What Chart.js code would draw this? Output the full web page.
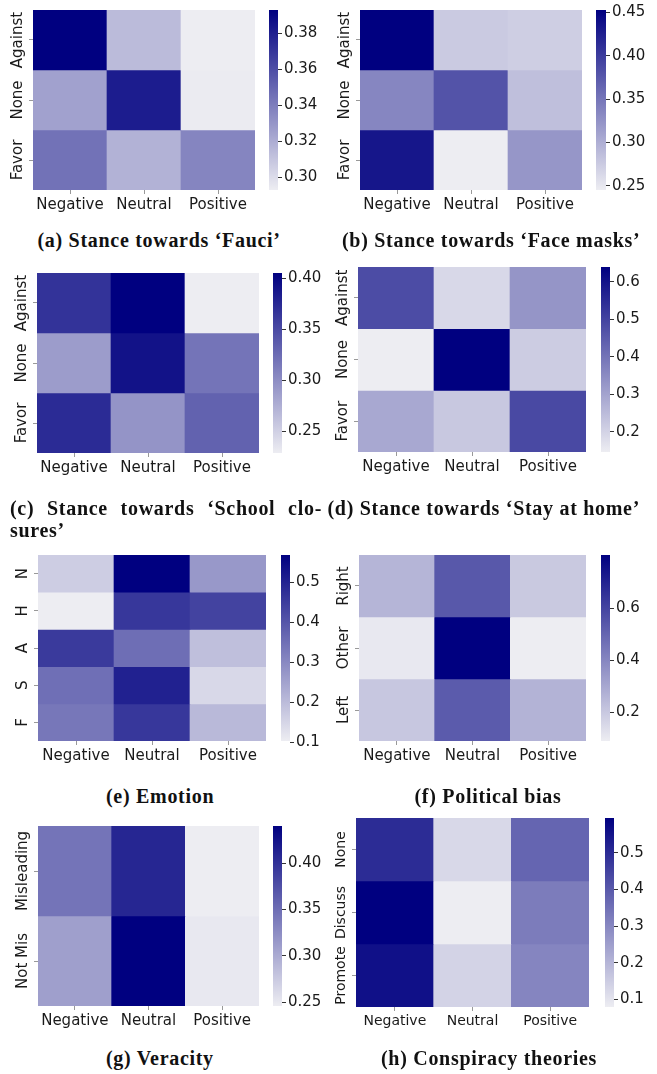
<!DOCTYPE html>
<html>
<head>
<meta charset="utf-8">
<script src="https://cdn.jsdelivr.net/npm/chart.js@4.4.0/dist/chart.umd.min.js"></script>
<style>
body { margin: 0; background: #fff; width: 657px; height: 1074px; position: relative; overflow: hidden; }
canvas { position: absolute; }
.cap { position: absolute; font-family: 'Liberation Serif', 'DejaVu Serif', serif; font-weight: bold; font-size: 20px; letter-spacing: 0.7px; line-height: 22px; color: #111; white-space: nowrap; }
</style>
</head>
<body>
<script>
// Kategorie
const sentiments = ['Negative', 'Neutral', 'Positive'];
const stanceRows = ['Against', 'None', 'Favor'];
const emotionRows = ['N', 'H', 'A', 'S', 'F'];
const biasRows = ['Right', 'Other', 'Left'];
const veracityRows = ['Misleading', 'Not Mis'];
const conspiracyRows = ['None', 'Discuss', 'Promote'];

// Wartości (wiersze od góry)
const fauciValues = [[0.393, 0.314, 0.293], [0.325, 0.381, 0.294], [0.345, 0.318, 0.337]];
const faceMaskValues = [[0.453, 0.276, 0.272], [0.335, 0.380, 0.285], [0.434, 0.245, 0.321]];
const schoolValues = [[0.367, 0.405, 0.229], [0.289, 0.392, 0.319], [0.373, 0.295, 0.332]];
const stayHomeValues = [[0.480, 0.190, 0.330], [0.146, 0.639, 0.215], [0.290, 0.222, 0.488]];
const emotionValues = [[0.165, 0.569, 0.270], [0.103, 0.460, 0.437], [0.455, 0.352, 0.193], [0.350, 0.505, 0.145], [0.335, 0.460, 0.205]];
const biasValues = [[0.260, 0.540, 0.200], [0.105, 0.805, 0.090], [0.205, 0.530, 0.265]];
const veracityValues = [[0.345, 0.409, 0.246], [0.310, 0.440, 0.250]];
const conspiracyValues = [[0.500, 0.125, 0.375], [0.595, 0.079, 0.326], [0.560, 0.135, 0.305]];

// Podziałki pasków kolorów
const fauciTicks = [0.30, 0.32, 0.34, 0.36, 0.38];
const faceMaskTicks = [0.25, 0.30, 0.35, 0.40, 0.45];
const schoolTicks = [0.25, 0.30, 0.35, 0.40];
const stayHomeTicks = [0.2, 0.3, 0.4, 0.5, 0.6];
const emotionTicks = [0.1, 0.2, 0.3, 0.4, 0.5];
const biasTicks = [0.2, 0.4, 0.6];
const veracityTicks = [0.25, 0.30, 0.35, 0.40];
const conspiracyTicks = [0.1, 0.2, 0.3, 0.4, 0.5];

const TEXT = '#1a1a1a';
const LIGHT = [237, 237, 242];
const NAVY = [0, 0, 128];

function cmap(t) {
    t = Math.max(0, Math.min(1, t));
    const c = LIGHT.map((l, i) => Math.round(l + (NAVY[i] - l) * t));
    return `rgb(${c[0]}, ${c[1]}, ${c[2]})`;
}

// Panele: [left, top, right, bottom] obszaru mapy, [left, right] paska
const panels = [
    { rows: stanceRows, values: fauciValues, ticks: fauciTicks, dec: 2, box: [33, 10, 255, 190], cb: [269, 278], fs: 15 },
    { rows: stanceRows, values: faceMaskValues, ticks: faceMaskTicks, dec: 2, box: [360, 10, 582, 190], cb: [596, 606], fs: 15 },
    { rows: stanceRows, values: schoolValues, ticks: schoolTicks, dec: 2, box: [37, 273, 259, 453], cb: [273, 282], fs: 15 },
    { rows: stanceRows, values: stayHomeValues, ticks: stayHomeTicks, dec: 1, box: [358, 267, 586, 452], cb: [601, 610], fs: 15 },
    { rows: emotionRows, values: emotionValues, ticks: emotionTicks, dec: 1, box: [38, 555, 266, 741], cb: [281, 290], fs: 15 },
    { rows: biasRows, values: biasValues, ticks: biasTicks, dec: 1, box: [359, 555, 586, 741], cb: [601, 610], fs: 15 },
    { rows: veracityRows, values: veracityValues, ticks: veracityTicks, dec: 2, box: [38, 826, 259, 1006], cb: [273, 282], fs: 15 },
    { rows: conspiracyRows, values: conspiracyValues, ticks: conspiracyTicks, dec: 1, box: [356, 818, 589, 1007], cb: [605, 614], fs: 14 }
];

const captions = [
    { text: '(a) Stance towards ‘Fauci’', cx: 159, y: 240 },
    { text: '(b) Stance towards ‘Face masks’', cx: 491, y: 240 },
    { text: '(d) Stance towards ‘Stay at home’', cx: 484, y: 508 },
    { text: '(e) Emotion', cx: 160, y: 796 },
    { text: '(f) Political bias', cx: 488, y: 796 },
    { text: '(g) Veracity', cx: 160, y: 1058 },
    { text: '(h) Conspiracy theories', cx: 489, y: 1058 }
];

function makeCanvas(x, y, w, h) {
    const c = document.createElement('canvas');
    c.width = w; c.height = h;
    c.style.left = x + 'px'; c.style.top = y + 'px';
    c.style.width = w + 'px'; c.style.height = h + 'px';
    document.body.appendChild(c);
    return c;
}

// Obrócone etykiety osi Y (jak w seaborn)
const yLabelPlugin = {
    id: 'yLabels',
    afterDraw(chart, args, opts) {
        const scale = chart.scales.y;
        const ctx = chart.ctx;
        const n = opts.rows.length;
        ctx.save();
        ctx.font = `${opts.size}px "DejaVu Sans"`;
        ctx.fillStyle = TEXT;
        ctx.textAlign = 'center';
        ctx.textBaseline = 'middle';
        opts.rows.forEach((label, i) => {
            const y = scale.getPixelForValue(n - 1 - i + 0.5);
            ctx.save();
            ctx.translate(scale.right - opts.offset, y);
            ctx.rotate(-Math.PI / 2);
            ctx.fillText(label, 0, 0);
            ctx.restore();
        });
        ctx.restore();
    }
};

function drawHeatmap(p) {
    const [L, T, R, B] = p.box;
    const n = p.rows.length;
    const flat = p.values.flat();
    const vmin = Math.min(...flat), vmax = Math.max(...flat);
    const canvas = makeCanvas(L - 40, T - 10, (R - L) + 50, (B - T) + 42);

    const datasets = p.rows.map((row, i) => ({
        label: row,
        data: sentiments.map(() => [n - 1 - i, n - i]),
        backgroundColor: p.values[i].map(v => cmap((v - vmin) / (vmax - vmin))),
        borderWidth: 0,
        barPercentage: 1,
        categoryPercentage: 1,
        grouped: false
    }));

    new Chart(canvas.getContext('2d'), {
        type: 'bar',
        data: { labels: sentiments, datasets },
        options: {
            responsive: false,
            animation: false,
            events: [],
            layout: { padding: { left: 0, top: 10, right: 10, bottom: 0 } },
            plugins: { legend: { display: false }, tooltip: { enabled: false }, yLabels: { rows: p.rows, size: p.fs, offset: 15 } },
            scales: {
                x: {
                    offset: true,
                    border: { display: false },
                    grid: { offset: false, drawOnChartArea: false, drawTicks: true, tickLength: 4, color: '#999' },
                    ticks: { font: { family: 'DejaVu Sans', size: p.fs }, color: TEXT, padding: 2, maxRotation: 0 },
                    afterFit: s => { s.height = 32; }
                },
                y: {
                    min: 0, max: n,
                    border: { display: false },
                    grid: { drawOnChartArea: false, drawTicks: true, tickLength: 4, color: '#999' },
                    ticks: { display: false },
                    afterBuildTicks: s => { s.ticks = p.rows.map((_, i) => ({ value: n - 1 - i + 0.5 })); },
                    afterFit: s => { s.width = 40; }
                }
            }
        },
        plugins: [yLabelPlugin]
    });

    // Pasek kolorów
    const [cL, cR] = p.cb;
    const cbCanvas = makeCanvas(cL - 2, T - 16, (cR - cL) + 52, (B - T) + 32);
    new Chart(cbCanvas.getContext('2d'), {
        type: 'bar',
        data: {
            labels: [''],
            datasets: [{
                data: [[vmin, vmax]],
                backgroundColor: ctx => {
                    const area = ctx.chart.chartArea;
                    if (!area) return null;
                    const g = ctx.chart.ctx.createLinearGradient(0, area.bottom, 0, area.top);
                    g.addColorStop(0, cmap(0));
                    g.addColorStop(1, cmap(1));
                    return g;
                },
                borderWidth: 0,
                barPercentage: 1,
                categoryPercentage: 1
            }]
        },
        options: {
            responsive: false,
            animation: false,
            events: [],
            layout: { padding: { left: 2, top: 16, right: 0, bottom: 16 } },
            plugins: { legend: { display: false }, tooltip: { enabled: false } },
            scales: {
                x: { display: false },
                y: {
                    position: 'right',
                    min: vmin, max: vmax,
                    border: { display: false },
                    grid: { drawOnChartArea: false, drawTicks: true, tickLength: 4, color: '#333' },
                    ticks: {
                        font: { family: 'DejaVu Sans', size: 15 },
                        color: TEXT,
                        padding: 2,
                        callback: v => Number(v).toFixed(p.dec)
                    },
                    afterBuildTicks: s => { s.ticks = p.ticks.map(v => ({ value: v })); },
                    afterFit: s => { s.width = 50; }
                }
            }
        }
    });
}

panels.forEach(drawHeatmap);

// Podpisy
captions.forEach(c => {
    const d = document.createElement('div');
    d.className = 'cap';
    d.textContent = c.text;
    document.body.appendChild(d);
    d.style.left = (c.cx - d.offsetWidth / 2) + 'px';
    d.style.top = (c.y - 11) + 'px';
});

// Podpis (c) - justowany, z przeniesieniem
const c1 = document.createElement('div');
c1.className = 'cap';
c1.style.cssText = 'left:10px;top:497px;width:312px;text-align:justify;text-align-last:justify;white-space:normal;';
c1.textContent = '(c) Stance towards ‘School clo-';
document.body.appendChild(c1);
const c2 = document.createElement('div');
c2.className = 'cap';
c2.style.cssText = 'left:10px;top:519px;';
c2.textContent = 'sures’';
document.body.appendChild(c2);
</script>
</body>
</html>
